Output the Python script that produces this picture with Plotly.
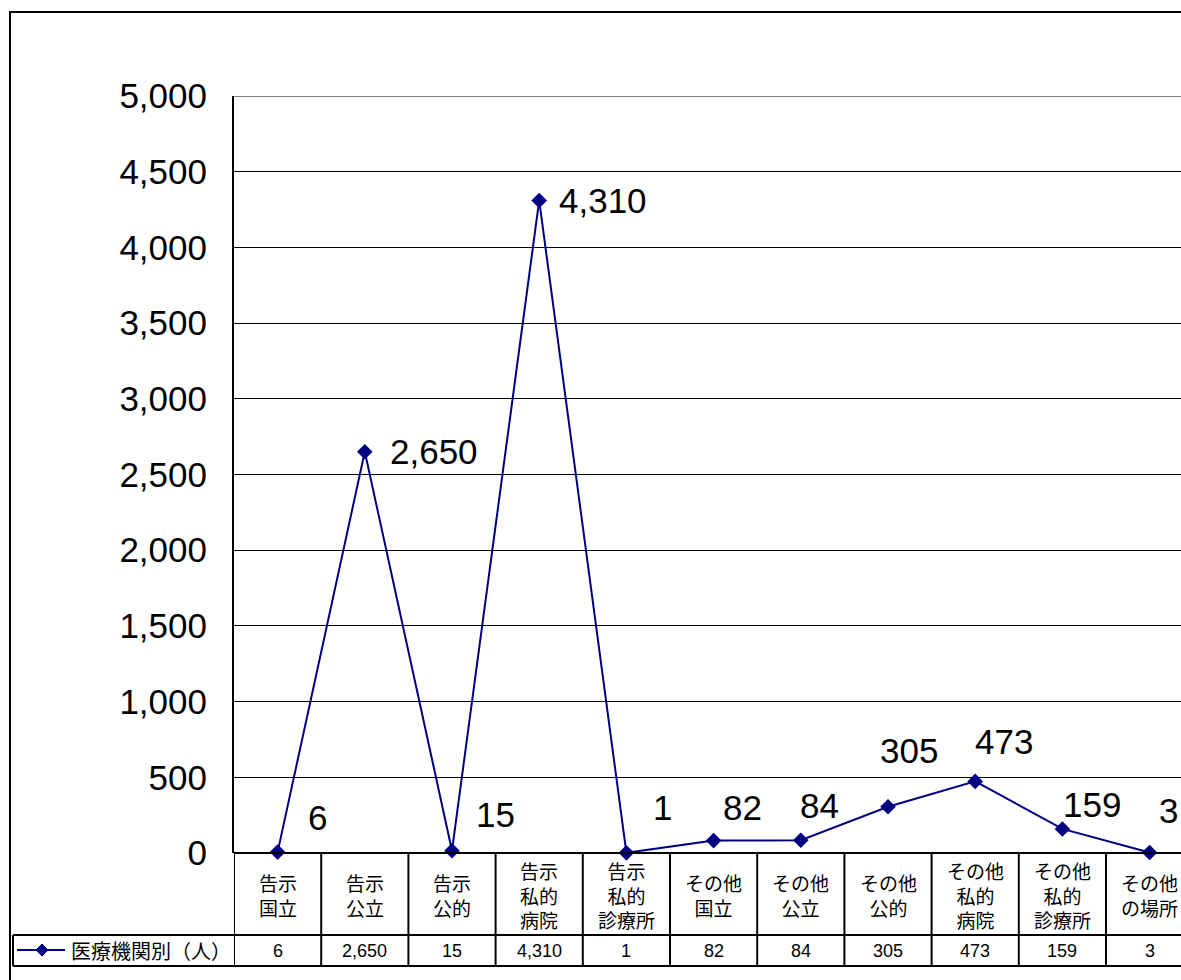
import plotly.graph_objects as go

# Categories (table header, two/three-line labels) and counts per facility type
categories = [
    "告示<br>国立", "告示<br>公立", "告示<br>公的", "告示<br>私的<br>病院", "告示<br>私的<br>診療所",
    "その他<br>国立", "その他<br>公立", "その他<br>公的", "その他<br>私的<br>病院",
    "その他<br>私的<br>診療所", "その他<br>の場所",
]
counts = [6, 2650, 15, 4310, 1, 82, 84, 305, 473, 159, 3]
series_name = "医療機関別（人）"
y_ticks = list(range(0, 5001, 500))

# Label offsets (pixels: right, up) for the data labels
label_offsets = [(28, 35), (23, 0), (22, 36), (18, 0), (25, 45), (7, 33),
                 (-3, 35), (-10, 56), (-2, 40), (-1, 24), (7, 42)]

NAVY = "#000080"
W, H = 1181, 980
PL, PT, PB = 234, 96, 853          # plot area edges in pixels
PW, PH = W - PL, PB - PT
COL_W = 87.2                        # width of one category column in pixels


def px(x):
    return (x - PL) / PW


def py(y):
    return (PB - y) / PH


n = len(categories)
xs = list(range(n))

fig = go.Figure()
fig.add_trace(go.Scatter(
    x=xs, y=counts, mode="lines+markers",
    line=dict(color=NAVY, width=2),
    marker=dict(symbol="diamond", size=12, color=NAVY),
    cliponaxis=False, showlegend=False, name=series_name,
))

shapes = []
annotations = []

# top edge of the plot area
shapes.append(dict(type="line", xref="paper", yref="y", x0=0, x1=1.02, y0=5000, y1=5000,
                   line=dict(color="#808080", width=2)))

# outer chart border
shapes.append(dict(type="rect", xref="paper", yref="paper",
                   x0=px(10), x1=px(1300), y0=py(1100), y1=py(12),
                   line=dict(color="black", width=2), fillcolor="rgba(0,0,0,0)"))

# data table grid
ROW1, ROW2, ROW3 = 853, 935, 966
shapes.append(dict(type="line", xref="paper", yref="paper", x0=0, x1=1.05,
                   y0=py(ROW1), y1=py(ROW1), line=dict(color="black", width=2)))
for yy in (ROW2, ROW3):
    shapes.append(dict(type="line", xref="paper", yref="paper", x0=px(13), x1=1.05,
                       y0=py(yy), y1=py(yy), line=dict(color="black", width=2)))
shapes.append(dict(type="line", xref="paper", yref="paper", x0=px(13), x1=px(13),
                   y0=py(ROW2), y1=py(ROW3), line=dict(color="black", width=2)))
for k in range(n + 1):
    xb = k - 0.5
    shapes.append(dict(type="line", xref="x", yref="paper", x0=xb, x1=xb,
                       y0=py(ROW1), y1=py(ROW3), line=dict(color="black", width=2)))

# legend key inside the table
key_y = py(950)
shapes.append(dict(type="line", xref="paper", yref="paper", x0=px(17), x1=px(65),
                   y0=key_y, y1=key_y, line=dict(color=NAVY, width=2)))
d = 6
cx, cy = 42, 950
shapes.append(dict(type="path", xref="paper", yref="paper",
                   path=f"M {px(cx - d)} {py(cy)} L {px(cx)} {py(cy - d)} "
                        f"L {px(cx + d)} {py(cy)} L {px(cx)} {py(cy + d)} Z",
                   fillcolor=NAVY, line=dict(color=NAVY, width=1)))
annotations.append(dict(xref="paper", yref="paper", x=px(69), y=key_y,
                        xanchor="left", yanchor="middle", text=series_name, showarrow=False,
                        font=dict(family="Noto Sans CJK JP", size=20, color="black")))

# header cells and value cells
for i, (cat, v) in enumerate(zip(categories, counts)):
    annotations.append(dict(xref="x", yref="paper", x=i, y=py((ROW1 + ROW2) / 2 + 1),
                            xanchor="center", yanchor="middle", text=cat, showarrow=False,
                            font=dict(family="Noto Sans CJK JP", size=19, color="black")))
    annotations.append(dict(xref="x", yref="paper", x=i, y=py((ROW2 + ROW3) / 2),
                            xanchor="center", yanchor="middle", text=f"{v:,}", showarrow=False,
                            font=dict(family="Liberation Sans", size=18, color="black")))

# data labels
for i, (v, (dx, dy)) in enumerate(zip(counts, label_offsets)):
    annotations.append(dict(x=i, y=v, xref="x", yref="y", text=f"{v:,}", showarrow=False,
                            xanchor="left", yanchor="middle", xshift=dx, yshift=dy,
                            font=dict(family="Liberation Sans", size=35, color="black")))

fig.update_layout(
    width=W, height=H,
    margin=dict(l=PL, r=0, t=PT, b=H - PB, autoexpand=False),
    paper_bgcolor="white", plot_bgcolor="white",
    shapes=shapes, annotations=annotations,
    xaxis=dict(range=[-0.5, -0.5 + PW / COL_W], showticklabels=False, showgrid=False,
               zeroline=False, ticks="", showline=False, fixedrange=True),
    yaxis=dict(range=[0, 5000], tickvals=y_ticks, tickformat=",d",
               showgrid=True, gridcolor="black", gridwidth=1,
               zeroline=False, showline=True, linecolor="black", linewidth=2,
               ticks="inside", ticklen=12, tickcolor="black", tickwidth=1,
               ticklabelstandoff=18,
               tickfont=dict(family="Liberation Sans", size=35, color="black"),
               fixedrange=True),
)

fig.write_html("out.html")
